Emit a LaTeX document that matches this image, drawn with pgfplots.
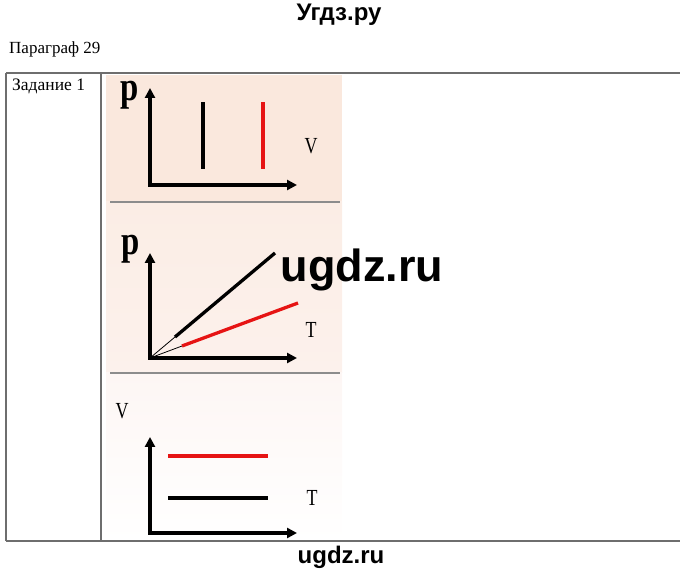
\documentclass[border=0pt]{standalone}
\usepackage{fontspec}
\setmainfont{Liberation Serif}
\newfontfamily\sansb{Liberation Sans}
\usepackage{pgfplots}
\pgfplotsset{compat=1.18}
\usetikzlibrary{arrows.meta}
\definecolor{bgA}{RGB}{250,232,221}
\definecolor{bgB}{RGB}{251,237,229}
\definecolor{bgC}{RGB}{252,241,236}
\definecolor{bgD}{RGB}{253,246,244}
\definecolor{sepgray}{RGB}{140,140,140}
\definecolor{tabgray}{RGB}{110,110,110}
\definecolor{myred}{RGB}{230,20,20}
\definecolor{thin}{RGB}{200,200,200}
\pgfplotsset{
  panel/.style={
    anchor=origin, x=1pt, y=1pt, xmin=0, ymin=0,
    axis lines=left, ticks=none, clip=false,
    axis line style={line width=3.4pt, line cap=rect, -{Triangle[length=10pt,width=10pt]}},
  }
}
\tikzset{
  bigp/.style={font=\bfseries\fontsize{41}{41}\selectfont, xscale=0.8, inner sep=0pt},
  axlab/.style={font=\fontsize{23}{23}\selectfont, xscale=0.78, inner sep=0pt},
}
\begin{document}
\begin{tikzpicture}
\path[use as bounding box] (0pt,0pt) rectangle (680pt,576pt);
% backgrounds (y = 576 - pixel y)
\fill[bgA] (106pt,501pt) rectangle (342pt,374pt);
\shade[top color=bgB, bottom color=bgC] (106pt,374pt) rectangle (342pt,203pt);
\shade[top color=bgD, bottom color=white] (106pt,203pt) rectangle (342pt,35pt);
\draw[sepgray, line width=1.5pt] (110pt,374pt) -- (340pt,374pt);
\draw[sepgray, line width=1.5pt] (110pt,203pt) -- (340pt,203pt);
% table
\draw[tabgray, line width=1.3pt] (6pt,503pt) -- (680pt,503pt);
\draw[tabgray, line width=1.3pt] (6pt,35pt) -- (680pt,35pt);
\draw[tabgray, line width=1.1pt] (6pt,503pt) -- (6pt,35pt);
\draw[tabgray, line width=1.1pt] (101pt,503pt) -- (101pt,35pt);
% texts
\node[font=\sansb\bfseries\fontsize{24}{24}\selectfont] at (339pt,561pt) {Угдз.ру};
\node[anchor=west, font=\fontsize{17}{17}\selectfont, inner sep=0pt] at (9pt,527pt) {Параграф 29};
\node[anchor=west, font=\fontsize{17.5}{17.5}\selectfont, inner sep=0pt] at (12pt,490pt) {Задание 1};
\node[font=\sansb\bfseries\fontsize{24}{24}\selectfont] at (341pt,19pt) {ugdz.ru};
% panel labels
\node[bigp] at (130pt,481pt) {p};
\node[axlab] at (311pt,430pt) {V};
\node[bigp] at (131pt,327pt) {p};
\node[axlab] at (311pt,246pt) {T};
\node[axlab] at (122pt,165pt) {V};
\node[axlab] at (312pt,78pt) {T};
% panel 1: isobaric p-V
\begin{axis}[panel, at={(150pt,391pt)}, xmax=147, ymax=97]
\addplot[black, line width=3.3pt] coordinates {(53,16) (53,83)};
\addplot[myred, line width=3.3pt] coordinates {(113,16) (113,83)};
\end{axis}
% panel 2: isochoric p-T
\begin{axis}[panel, at={(150pt,218pt)}, xmax=147, ymax=105]
\addplot[thin, line width=0.8pt] coordinates {(0,0) (25,21)};
\addplot[thin, line width=0.8pt] coordinates {(0,0) (32,12)};
\addplot[black, line width=3.3pt] coordinates {(25,21) (125,105)};
\addplot[myred, line width=3.3pt] coordinates {(32,12) (148,55)};
\end{axis}
% panel 3: isobaric V-T
\begin{axis}[panel, at={(150pt,43pt)}, xmax=147, ymax=96]
\addplot[myred, line width=3.3pt] coordinates {(18,77) (118,77)};
\addplot[black, line width=3.3pt] coordinates {(18,35) (118,35)};
\end{axis}
% watermark
\node[font=\sansb\bfseries\fontsize{45}{45}\selectfont] at (362pt,306pt) {ugdz.ru};
\end{tikzpicture}
\end{document}
